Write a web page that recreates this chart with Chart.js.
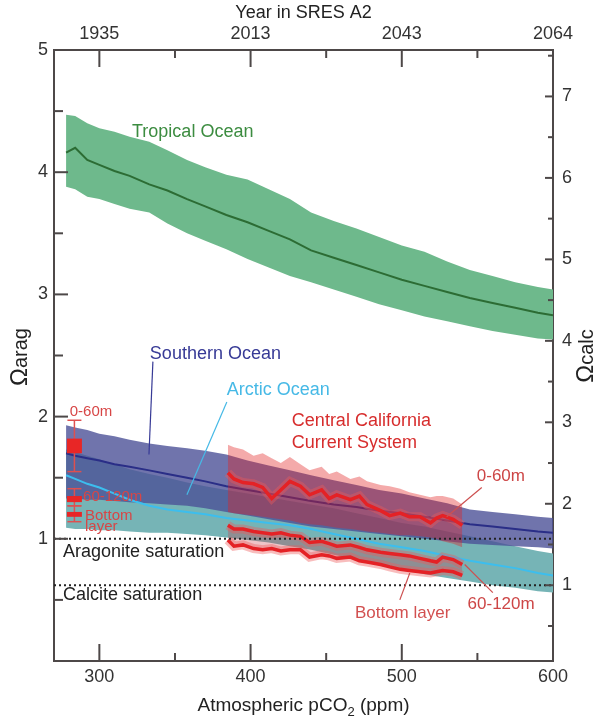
<!DOCTYPE html>
<html>
<head>
<meta charset="utf-8">
<script src="https://cdn.jsdelivr.net/npm/chart.js@4.4.1/dist/chart.umd.min.js"></script>
<style>
  html, body { margin: 0; padding: 0; background: #fff; }
  canvas { display: block; }
</style>
</head>
<body>
<canvas id="omegaChart" width="609" height="718"></canvas>
<script>
// pCO2 positions (ppm) for the open ocean model runs
const oceanPco2 = [278, 284, 292, 300, 310, 320, 333, 345, 358, 370, 384, 398, 412, 426, 440, 455, 470, 485, 500, 515, 530, 545, 560, 575, 590, 600];

const tropicalMean = [4.16, 4.20, 4.10, 4.06, 4.01, 3.97, 3.90, 3.85, 3.78, 3.72, 3.65, 3.59, 3.52, 3.45, 3.36, 3.30, 3.24, 3.18, 3.12, 3.07, 3.02, 2.97, 2.93, 2.89, 2.85, 2.83];
const tropicalHigh = [4.47, 4.46, 4.40, 4.36, 4.33, 4.29, 4.25, 4.18, 4.10, 4.04, 3.98, 3.94, 3.86, 3.78, 3.67, 3.60, 3.54, 3.47, 3.40, 3.35, 3.27, 3.20, 3.15, 3.10, 3.06, 3.04];
const tropicalLow  = [3.88, 3.86, 3.80, 3.78, 3.74, 3.70, 3.67, 3.58, 3.50, 3.44, 3.37, 3.29, 3.22, 3.15, 3.10, 3.04, 2.98, 2.92, 2.87, 2.82, 2.78, 2.74, 2.70, 2.67, 2.64, 2.63];

const southernMean = [1.70, 1.68, 1.66, 1.64, 1.61, 1.59, 1.56, 1.53, 1.50, 1.47, 1.43, 1.40, 1.37, 1.34, 1.31, 1.28, 1.26, 1.23, 1.21, 1.18, 1.15, 1.12, 1.10, 1.08, 1.06, 1.05];
const southernHigh = [1.93, 1.91, 1.89, 1.86, 1.84, 1.81, 1.78, 1.76, 1.74, 1.72, 1.69, 1.64, 1.60, 1.56, 1.52, 1.48, 1.44, 1.40, 1.37, 1.33, 1.29, 1.24, 1.22, 1.20, 1.18, 1.17];
const southernLow  = [1.33, 1.33, 1.32, 1.32, 1.31, 1.30, 1.29, 1.28, 1.27, 1.25, 1.22, 1.19, 1.16, 1.13, 1.10, 1.08, 1.06, 1.04, 1.02, 1.00, 0.98, 0.96, 0.95, 0.94, 0.93, 0.92];

const arcticMean = [1.52, 1.49, 1.45, 1.42, 1.37, 1.32, 1.27, 1.24, 1.22, 1.20, 1.17, 1.15, 1.13, 1.11, 1.08, 1.04, 1.00, 0.96, 0.93, 0.90, 0.86, 0.82, 0.79, 0.76, 0.72, 0.70];
const arcticHigh = [1.73, 1.71, 1.68, 1.65, 1.61, 1.57, 1.53, 1.50, 1.46, 1.43, 1.40, 1.37, 1.34, 1.31, 1.28, 1.25, 1.21, 1.17, 1.13, 1.10, 1.06, 1.02, 0.98, 0.94, 0.90, 0.88];
const arcticLow  = [1.09, 1.08, 1.08, 1.07, 1.07, 1.06, 1.05, 1.05, 1.04, 1.03, 1.01, 0.99, 0.97, 0.94, 0.91, 0.87, 0.83, 0.79, 0.75, 0.71, 0.68, 0.65, 0.62, 0.60, 0.57, 0.56];

// Central California Current System runs
const cccsPco2 = [385, 389, 395, 402, 408, 414, 420, 426, 433, 439, 447, 452, 457, 466, 472, 477, 486, 492, 499, 505, 512, 519, 523, 527, 534, 540];
const cccsSurface     = [1.54, 1.49, 1.46, 1.45, 1.42, 1.33, 1.40, 1.47, 1.43, 1.36, 1.40, 1.33, 1.36, 1.32, 1.35, 1.28, 1.23, 1.19, 1.21, 1.18, 1.18, 1.13, 1.17, 1.19, 1.16, 1.11];
const cccsSurfaceHigh = [1.77, 1.75, 1.73, 1.68, 1.70, 1.66, 1.62, 1.67, 1.61, 1.56, 1.59, 1.53, 1.55, 1.49, 1.51, 1.47, 1.44, 1.43, 1.41, 1.38, 1.36, 1.34, 1.35, 1.35, 1.33, 1.28];
const cccsSurfaceLow  = [1.22, 1.21, 1.20, 1.19, 1.18, 1.17, 1.16, 1.15, 1.13, 1.12, 1.11, 1.10, 1.09, 1.08, 1.07, 1.06, 1.05, 1.04, 1.03, 1.03, 1.02, 1.01, 1.00, 0.98, 0.96, 0.93];
const cccsMid    = [1.11, 1.08, 1.08, 1.06, 1.05, 1.04, 1.05, 1.03, 1.02, 0.97, 0.98, 0.96, 0.94, 0.95, 0.93, 0.91, 0.89, 0.88, 0.87, 0.86, 0.84, 0.82, 0.81, 0.85, 0.83, 0.79];
const cccsBottom = [0.99, 0.94, 0.95, 0.92, 0.91, 0.92, 0.90, 0.91, 0.91, 0.85, 0.87, 0.86, 0.84, 0.85, 0.82, 0.81, 0.79, 0.77, 0.75, 0.74, 0.73, 0.72, 0.73, 0.74, 0.73, 0.70];

// present-day observations (0-60m, 60-120m, bottom layer)
const obsPco2 = 283.5;
const obsBoxLow      = [1.70, 1.30, 1.18];
const obsBoxHigh     = [1.82, 1.35, 1.22];
const obsWhiskerLow  = [1.55, 1.27, 1.14];
const obsWhiskerHigh = [1.97, 1.41, 1.27];

const saturationLevel = 1;
const pco2Ticks = [300, 400, 500, 600];
const pco2MinorTicks = [350, 450, 550];
const yearLabels = ["1935", "2013", "2043", "2064"];
const aragTicks = [1, 2, 3, 4, 5];
const calcTicks = [1, 2, 3, 4, 5, 6, 7];

const FONT = '"Liberation Sans", Arial, sans-serif';
const AXIS = "#4d4848";

function pts(xs, ys) {
    return xs.map((x, i) => ({ x: x, y: ys[i] }));
}

const datasets = [];
function add(ds) {
    datasets.push(Object.assign({
        pointRadius: 0, borderWidth: 0, fill: false, tension: 0, yAxisID: "y", borderColor: "rgba(0,0,0,0)"
    }, ds));
    return datasets.length - 1;
}

// bands (back to front)
add({ data: pts(oceanPco2, tropicalLow) });
add({ data: pts(oceanPco2, tropicalHigh), fill: "-1", backgroundColor: "rgb(110,185,140)" });
add({ data: pts(oceanPco2, arcticLow) });
add({ data: pts(oceanPco2, arcticHigh), fill: "-1", backgroundColor: "rgb(118,180,182)" });
add({ data: pts(oceanPco2, southernLow) });
add({ data: pts(oceanPco2, southernHigh), fill: "-1", backgroundColor: "rgba(76,81,151,0.8)" });

// model means
add({ data: pts(oceanPco2, tropicalMean), borderColor: "rgb(44,108,52)", borderWidth: 2 });
add({ data: pts(oceanPco2, southernMean), borderColor: "rgb(42,46,135)", borderWidth: 2 });
add({ data: pts(oceanPco2, arcticMean), borderColor: "rgb(60,190,238)", borderWidth: 2 });

// CCCS ranges
add({ data: pts(cccsPco2, cccsSurfaceLow) });
add({ data: pts(cccsPco2, cccsSurfaceHigh), fill: "-1", backgroundColor: "rgba(226,32,32,0.38)" });
add({ data: pts(cccsPco2, cccsBottom) });
add({ data: pts(cccsPco2, cccsMid), fill: "-1", backgroundColor: "rgba(200,60,70,0.3)" });

// CCCS lines with soft halo
[cccsSurface, cccsMid, cccsBottom].forEach(series => {
    add({ data: pts(cccsPco2, series), borderColor: "rgba(238,90,90,0.4)", borderWidth: 9 });
});
[cccsSurface, cccsMid, cccsBottom].forEach(series => {
    add({ data: pts(cccsPco2, series), borderColor: "rgb(228,34,38)", borderWidth: 3.5 });
});

// saturation horizons
add({ data: [{ x: 270, y: saturationLevel }, { x: 600, y: saturationLevel }], borderColor: "#222", borderWidth: 2, borderDash: [2, 3] });
add({ data: [{ x: 270, y: saturationLevel }, { x: 600, y: saturationLevel }], yAxisID: "y2", borderColor: "#222", borderWidth: 2, borderDash: [2, 3] });

// observations: whiskers + boxes
obsBoxLow.forEach((lo, i) => {
    add({
        data: [{ x: obsPco2, y: obsWhiskerLow[i] }, { x: obsPco2, y: obsWhiskerHigh[i] }],
        borderColor: "rgb(222,80,80)", borderWidth: 1.5,
        pointStyle: "line", pointRadius: 7, pointBorderWidth: 1.5, pointBorderColor: "rgb(222,80,80)"
    });
    add({
        data: [{ x: obsPco2, y: lo }, { x: obsPco2, y: obsBoxHigh[i] }],
        borderColor: "rgb(232,38,38)", borderWidth: 15, borderCapStyle: "butt"
    });
});

datasets.forEach((d, i) => { d.order = datasets.length - i; });

// text annotations, placed in data units
const notes = [
    { text: "Tropical Ocean", x: 321.6, y: 4.33, color: "rgb(60,140,64)", size: 18 },
    { text: "Southern Ocean", x: 333.4, y: 2.51, color: "rgb(55,58,150)", size: 18 },
    { text: "Arctic Ocean", x: 384.3, y: 2.22, color: "rgb(70,185,230)", size: 18 },
    { text: "Central California", x: 427.3, y: 1.96, color: "rgb(215,45,45)", size: 18 },
    { text: "Current System", x: 427.3, y: 1.78, color: "rgb(215,45,45)", size: 18 },
    { text: "0-60m", x: 549.6, y: 1.51, color: "rgb(205,70,70)", size: 17 },
    { text: "60-120m", x: 543.5, y: 0.46, color: "rgb(205,70,70)", size: 17 },
    { text: "Bottom layer", x: 325.5 + 143.5, y: 0.39, color: "rgb(210,80,80)", size: 17 },
    { text: "0-60m", x: 280.4, y: 2.04, color: "rgb(215,70,70)", size: 15 },
    { text: "60-120m", x: 289.2, y: 1.34, color: "rgb(215,70,70)", size: 15 },
    { text: "Bottom", x: 290.5, y: 1.19, color: "rgb(215,70,70)", size: 15 },
    { text: "layer", x: 290.5, y: 1.10, color: "rgb(215,70,70)", size: 15 },
    { text: "Aragonite saturation", x: 276, y: 0.89, color: "#222", size: 18 },
    { text: "Calcite saturation", x: 276, y: 0.54, color: "#222", size: 18 }
];
const leaders = [
    { from: [335.4, 2.45], to: [332.8, 1.69], color: "rgb(55,58,150)" },
    { from: [384.3, 2.12], to: [357.9, 1.36], color: "rgb(70,185,230)" },
    { from: [552.9, 1.42], to: [529.7, 1.18], color: "rgb(205,80,80)" },
    { from: [541.6, 0.79], to: [560.2, 0.56], color: "rgb(205,80,80)" },
    { from: [498.7, 0.50], to: [505.3, 0.72], color: "rgb(205,80,80)" }
];

const decorations = {
    id: "decorations",
    afterDraw(chart) {
        const ctx = chart.ctx;
        const sx = chart.scales.x, sy = chart.scales.y, sy2 = chart.scales.y2;
        const a = chart.chartArea;

        function seg(x1, y1, x2, y2, w, c) {
            ctx.beginPath();
            ctx.lineWidth = w;
            ctx.strokeStyle = c;
            ctx.moveTo(x1, y1);
            ctx.lineTo(x2, y2);
            ctx.stroke();
        }

        ctx.save();
        // inward tick marks on all four sides
        pco2Ticks.forEach(v => {
            const px = sx.getPixelForValue(v);
            seg(px, a.bottom, px, a.bottom - 17, 2, AXIS);
            seg(px, a.top, px, a.top + 17, 2, AXIS);
        });
        pco2MinorTicks.forEach(v => {
            const px = sx.getPixelForValue(v);
            seg(px, a.bottom, px, a.bottom - 8, 2, AXIS);
            seg(px, a.top, px, a.top + 8, 2, AXIS);
        });
        for (let v = 0.5; v < 5; v += 0.5) {
            const py = sy.getPixelForValue(v);
            seg(a.left, py, a.left + (v % 1 === 0 ? 14 : 9), py, 2, AXIS);
        }
        for (let v = 0.5; v < 7.6; v += 0.5) {
            const py = sy2.getPixelForValue(v);
            seg(a.right, py, a.right - (v % 1 === 0 ? 8 : 5), py, 2, AXIS);
        }

        // leader lines
        leaders.forEach(l => {
            seg(sx.getPixelForValue(l.from[0]), sy.getPixelForValue(l.from[1]),
                sx.getPixelForValue(l.to[0]), sy.getPixelForValue(l.to[1]), 1.2, l.color);
        });

        // annotations
        ctx.textBaseline = "middle";
        ctx.textAlign = "left";
        notes.forEach(n => {
            ctx.font = n.size + "px " + FONT;
            ctx.fillStyle = n.color;
            ctx.fillText(n.text, sx.getPixelForValue(n.x), sy.getPixelForValue(n.y));
        });

        // axis titles
        ctx.fillStyle = "#222";
        ctx.textAlign = "center";
        ctx.font = "18px " + FONT;
        ctx.fillText("Year in SRES A2", (a.left + a.right) / 2, 13);

        const main = "Atmospheric pCO", sub = "2", tail = " (ppm)";
        ctx.font = "19px " + FONT;
        const w1 = ctx.measureText(main).width, w3 = ctx.measureText(tail).width;
        ctx.font = "13px " + FONT;
        const w2 = ctx.measureText(sub).width;
        let tx = (a.left + a.right) / 2 - (w1 + w2 + w3) / 2;
        ctx.textAlign = "left";
        ctx.textBaseline = "alphabetic";
        ctx.font = "19px " + FONT;
        ctx.fillText(main, tx, 711);
        ctx.font = "13px " + FONT;
        ctx.fillText(sub, tx + w1, 716);
        ctx.font = "19px " + FONT;
        ctx.fillText(tail, tx + w1 + w2, 711);

        function omegaTitle(cx, cy, suffix) {
            ctx.save();
            ctx.translate(cx, cy);
            ctx.rotate(-Math.PI / 2);
            ctx.textBaseline = "middle";
            ctx.textAlign = "left";
            ctx.font = "24px " + FONT;
            const wo = ctx.measureText("\u03A9").width;
            ctx.font = "20px " + FONT;
            const ws = ctx.measureText(suffix).width;
            const start = -(wo + ws) / 2;
            ctx.font = "24px " + FONT;
            ctx.fillText("\u03A9", start, 0);
            ctx.font = "20px " + FONT;
            ctx.fillText(suffix, start + wo, 1);
            ctx.restore();
        }
        omegaTitle(20, 357, "arag");
        omegaTitle(586, 356, "calc");
        ctx.restore();
    }
};

const tickFont = { size: 18, family: FONT };

new Chart(document.getElementById("omegaChart").getContext("2d"), {
    type: "line",
    data: { datasets: datasets },
    options: {
        responsive: false,
        animation: false,
        devicePixelRatio: 1,
        events: [],
        layout: { padding: 0 },
        plugins: { legend: { display: false }, tooltip: { enabled: false } },
        scales: {
            x: {
                type: "linear", position: "bottom", min: 270, max: 600,
                afterBuildTicks: s => { s.ticks = pco2Ticks.map(v => ({ value: v })); },
                afterFit: s => { s.height = 57; },
                grid: { display: false, drawTicks: false },
                border: { display: true, color: AXIS, width: 2 },
                ticks: { font: tickFont, color: "#333", padding: 5, maxRotation: 0, autoSkip: false }
            },
            x2: {
                type: "linear", axis: "x", position: "top", min: 270, max: 600,
                afterBuildTicks: s => { s.ticks = pco2Ticks.map(v => ({ value: v })); },
                afterFit: s => { s.height = 50; },
                grid: { display: false, drawTicks: false },
                border: { display: true, color: AXIS, width: 2 },
                ticks: {
                    font: tickFont, color: "#333", padding: 5, maxRotation: 0, autoSkip: false,
                    callback: v => yearLabels[pco2Ticks.indexOf(v)]
                }
            },
            y: {
                type: "linear", position: "left", min: 0, max: 5,
                afterBuildTicks: s => { s.ticks = aragTicks.map(v => ({ value: v })); },
                afterFit: s => { s.width = 54; },
                grid: { display: false, drawTicks: false },
                border: { display: true, color: AXIS, width: 2 },
                ticks: { font: tickFont, color: "#333", padding: 6 }
            },
            y2: {
                type: "linear", position: "right", min: 0.07, max: 7.57,
                afterBuildTicks: s => { s.ticks = calcTicks.map(v => ({ value: v })); },
                afterFit: s => { s.width = 56; },
                grid: { display: false, drawTicks: false },
                border: { display: true, color: AXIS, width: 2 },
                ticks: { font: tickFont, color: "#333", padding: 9 }
            }
        }
    },
    plugins: [decorations]
});
</script>
</body>
</html>
